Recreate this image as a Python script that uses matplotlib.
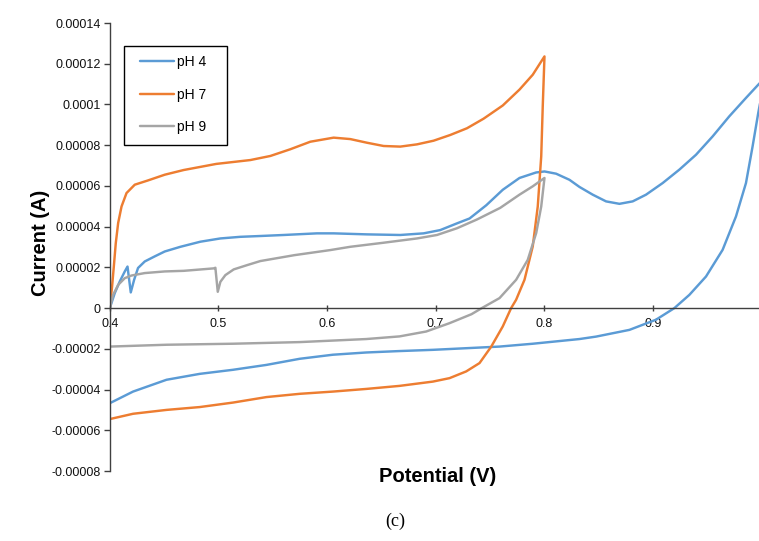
import matplotlib
matplotlib.use("Agg")
import matplotlib.pyplot as plt
from matplotlib.patches import Rectangle
import numpy as np

# ---------------- data (current in units of 1e-5 A) ----------------
ph4_fwd_x = [0.400, 0.4046, 0.4092, 0.4138, 0.4163, 0.4193, 0.4224, 0.426, 0.4322, 0.4414,
             0.4506, 0.465, 0.4834, 0.5018, 0.5202, 0.5386, 0.5601, 0.5907, 0.6061, 0.6368,
             0.6674, 0.6889, 0.7042, 0.7196, 0.7312, 0.7466, 0.7618, 0.7772, 0.7925, 0.8002,
             0.8109, 0.8232, 0.8324, 0.8446, 0.8569, 0.8692, 0.8814, 0.8937, 0.909, 0.9244,
             0.9397, 0.955, 0.9704, 0.9857, 0.997, 1.003]
ph4_fwd_y = [0.0, 0.74, 1.31, 1.80, 2.04, 0.77, 1.39, 1.97, 2.29, 2.54,
             2.78, 3.01, 3.26, 3.42, 3.50, 3.54, 3.59, 3.67, 3.67, 3.62,
             3.59, 3.67, 3.83, 4.16, 4.40, 5.05, 5.81, 6.39, 6.66, 6.71,
             6.60, 6.30, 5.95, 5.57, 5.24, 5.12, 5.24, 5.57, 6.14, 6.80,
             7.53, 8.43, 9.42, 10.32, 10.97, 11.30]
ph4_rev_x = [1.003, 0.997, 0.9918, 0.9857, 0.9765, 0.9642, 0.9489, 0.9336, 0.9198, 0.9029,
             0.8784, 0.8477, 0.8324, 0.7895, 0.7588, 0.7281, 0.6974, 0.6668, 0.6361, 0.6054,
             0.5748, 0.5442, 0.5134, 0.4828, 0.4522, 0.4214, 0.400]
ph4_rev_y = [11.30, 9.58, 7.94, 6.14, 4.50, 2.86, 1.55, 0.65, 0.0, -0.57,
             -1.07, -1.40, -1.52, -1.75, -1.89, -1.97, -2.05, -2.11, -2.18, -2.29,
             -2.49, -2.79, -3.03, -3.23, -3.52, -4.10, -4.67]

ph7_fwd_x = [0.400, 0.4021, 0.4037, 0.4055, 0.4077, 0.4108, 0.4154, 0.423, 0.4352, 0.4506,
             0.468, 0.498, 0.5294, 0.5478, 0.5662, 0.5846, 0.6061, 0.6214, 0.6368, 0.6521,
             0.6674, 0.6828, 0.6981, 0.7134, 0.7288, 0.7441, 0.7618, 0.7772, 0.7894, 0.8002]
ph7_fwd_y = [0.0, 1.06, 2.04, 3.19, 4.18, 4.99, 5.65, 6.06, 6.27, 6.55,
             6.78, 7.08, 7.27, 7.47, 7.80, 8.17, 8.37, 8.30, 8.12, 7.96,
             7.93, 8.04, 8.22, 8.50, 8.83, 9.30, 9.95, 10.73, 11.46, 12.36]
ph7_rev_x = [0.8002, 0.7986, 0.7972, 0.794, 0.7894, 0.7818, 0.7741, 0.7695, 0.7618, 0.7512,
             0.7404, 0.7281, 0.7128, 0.6974, 0.6668, 0.6361, 0.6054, 0.5748, 0.5442, 0.5134,
             0.4828, 0.4522, 0.4214, 0.400]
ph7_rev_y = [12.36, 9.91, 7.45, 4.99, 3.03, 1.39, 0.41, 0.0, -0.90, -1.89,
             -2.70, -3.11, -3.44, -3.61, -3.82, -3.97, -4.10, -4.21, -4.37, -4.64,
             -4.86, -5.00, -5.19, -5.45]

ph9_fwd_x = [0.400, 0.403, 0.4077, 0.4138, 0.420, 0.4322, 0.4506, 0.4681, 0.4957, 0.4972,
             0.4994, 0.5018, 0.5064, 0.5141, 0.5264, 0.5386, 0.570, 0.6031, 0.6214, 0.6521,
             0.6828, 0.7012, 0.7196, 0.738, 0.7594, 0.7772, 0.7894, 0.8002]
ph9_fwd_y = [0.0, 0.65, 1.14, 1.47, 1.60, 1.72, 1.80, 1.83, 1.95, 1.98,
             0.80, 1.29, 1.62, 1.90, 2.11, 2.31, 2.60, 2.85, 3.01, 3.21,
             3.42, 3.59, 3.92, 4.35, 4.92, 5.57, 5.98, 6.39]
ph9_rev_x = [0.8002, 0.7972, 0.7926, 0.7848, 0.7741, 0.7588, 0.7425, 0.733, 0.7128, 0.6913,
             0.6668, 0.6361, 0.5748, 0.5134, 0.4522, 0.400]
ph9_rev_y = [6.39, 4.99, 3.69, 2.37, 1.39, 0.49, 0.0, -0.30, -0.74, -1.15,
             -1.39, -1.52, -1.67, -1.75, -1.80, -1.89]

series_labels = ["pH 4", "pH 7", "pH 9"]
series_colors = ["#5B9BD5", "#ED7D31", "#A5A5A5"]

x_ticks = [0.4, 0.5, 0.6, 0.7, 0.8, 0.9]
x_tick_labels = ["0.4", "0.5", "0.6", "0.7", "0.8", "0.9"]
y_ticks = [-0.00008, -0.00006, -0.00004, -0.00002, 0, 0.00002, 0.00004,
           0.00006, 0.00008, 0.0001, 0.00012, 0.00014]
y_tick_labels = ["-0.00008", "-0.00006", "-0.00004", "-0.00002", "0", "0.00002",
                 "0.00004", "0.00006", "0.00008", "0.0001", "0.00012", "0.00014"]

# ---------------- figure ----------------
plt.rcParams['font.family'] = ['Liberation Sans', 'DejaVu Sans']
W, H = 759, 541
fig = plt.figure(figsize=(W / 100, H / 100), dpi=100)
left_px, right_px, top_px, bot_px = 109.8, 761.5, 23, 471
ax = fig.add_axes([left_px / W, 1 - bot_px / H, (right_px - left_px) / W, (bot_px - top_px) / H])

scale = 1e-5
curves = [
    (ph4_fwd_x + ph4_rev_x, ph4_fwd_y + ph4_rev_y),
    (ph7_fwd_x + ph7_rev_x, ph7_fwd_y + ph7_rev_y),
    (ph9_fwd_x + ph9_rev_x, ph9_fwd_y + ph9_rev_y),
]
for (xs, ys), lab, col in zip(curves, series_labels, series_colors):
    ax.plot(xs, np.array(ys) * scale, color=col, lw=1.75, label=lab,
            solid_joinstyle='round', solid_capstyle='round')

ax.set_xlim(0.4, 1.0)
ax.set_ylim(-0.00008, 0.00014)

for s in ['top', 'right']:
    ax.spines[s].set_visible(False)
ax.spines['bottom'].set_position(('data', 0))
for s in ['left', 'bottom']:
    ax.spines[s].set_color('#404040')
    ax.spines[s].set_linewidth(1.0)

ax.set_xticks(x_ticks)
ax.set_xticklabels(x_tick_labels)
ax.set_yticks(y_ticks)
ax.set_yticklabels(y_tick_labels)
ax.tick_params(axis='y', direction='out', length=4, width=1, color='#404040',
               labelsize=9, pad=2.5, labelcolor='#111111')
ax.tick_params(axis='x', direction='inout', length=5, width=1, color='#404040',
               labelsize=9, pad=4.5, labelcolor='#111111')

fig.text(40.5 / W, 1 - 243 / H, "Current (A)", rotation=90, ha='center', va='center',
         fontsize=14.5, fontweight='bold')
fig.text(438 / W, 1 - 477 / H, "Potential (V)", ha='center', va='center',
         fontsize=14.5, fontweight='bold')
fig.text(395 / W, 1 - 521 / H, "(c)", ha='center', va='center',
         fontsize=13, family=['Liberation Serif', 'DejaVu Serif'])

# legend: entries without frame, frame drawn separately
leg = ax.legend(loc='upper left', bbox_to_anchor=(140 / W, 1 - 55 / H),
                bbox_transform=fig.transFigure, fontsize=10,
                frameon=False, handlelength=2.45, handletextpad=0.22,
                labelspacing=1.34, borderpad=0, borderaxespad=0)
fig.patches.append(Rectangle((123.5 / W, 1 - 145 / H), (227 - 123.5) / W, (145 - 45.5) / H,
                             transform=fig.transFigure, fill=False,
                             edgecolor='black', linewidth=1.0))

fig.savefig("out.png", dpi=100)
